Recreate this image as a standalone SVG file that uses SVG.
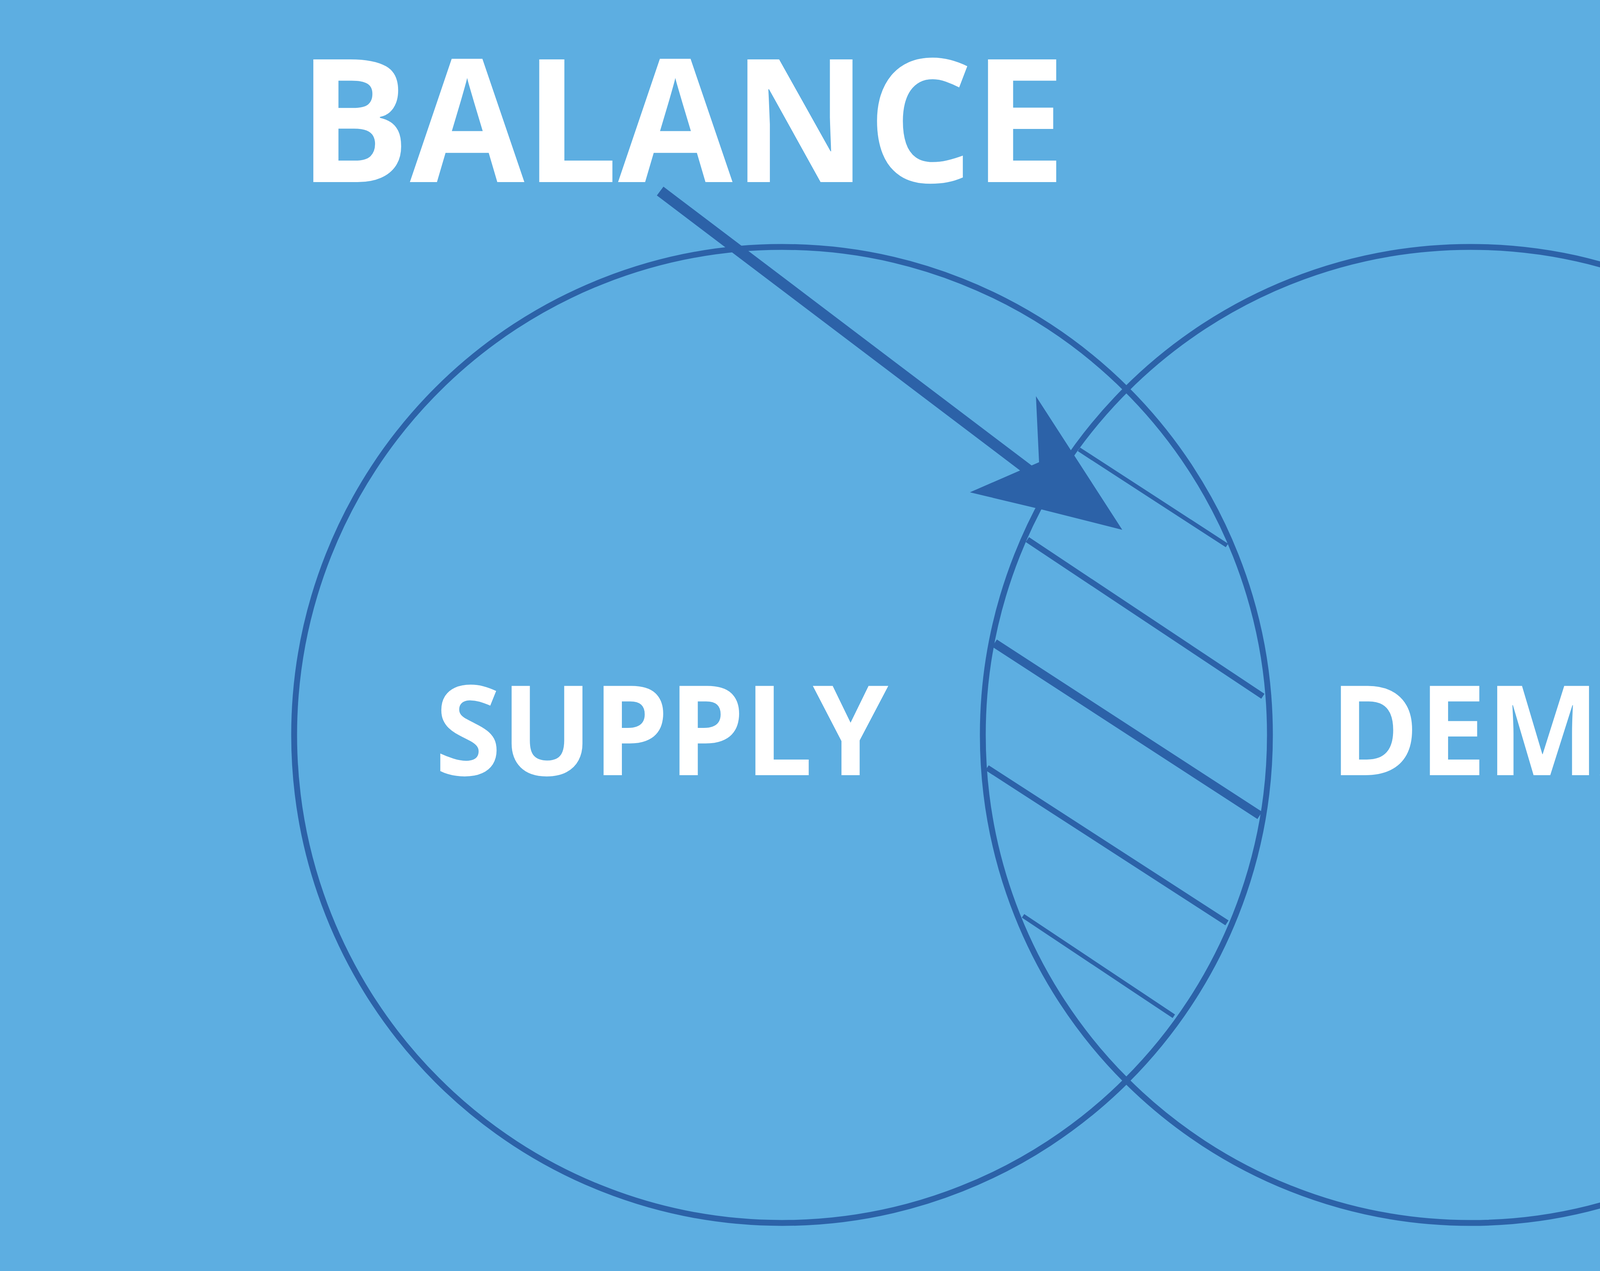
<svg xmlns="http://www.w3.org/2000/svg" width="5760" height="3253" viewBox="0 0 5760 3253">
<style>
.c{fill:none;stroke:#2c62a8;stroke-width:15}
.h{stroke:#2c62a8;fill:none}
.t{font-family:"Open Sans","Liberation Sans",sans-serif;font-weight:bold;fill:#fff}
</style>
<rect width="5760" height="3253" fill="#5daee1"/>
<g id="supply"><circle class="c" cx="2002" cy="1881" r="1249"/>
<text class="t" x="1113" y="1984" font-size="320" textLength="1161" lengthAdjust="spacingAndGlyphs">SUPPLY</text></g>
<g id="demand"><circle class="c" cx="3765" cy="1881" r="1249"/>
<text class="t" x="3405" y="1984" font-size="320" textLength="1381" lengthAdjust="spacingAndGlyphs">DEMAND</text></g>
<g id="balance"><text class="t" x="764" y="466" font-size="440" textLength="1965" lengthAdjust="spacingAndGlyphs">BALANCE</text></g>
<g id="connectors">
<line class="h" x1="1690" y1="489" x2="2645" y2="1212" stroke-width="28"/>
<polygon fill="#2c62a8" points="2873,1356 2652,1014 2660,1183 2483,1260 2667,1304"/>
<line class="h" x1="2762" y1="1150" x2="3141" y2="1396" stroke-width="11"/>
<line class="h" x1="2630" y1="1381" x2="3233" y2="1782" stroke-width="15"/>
<line class="h" x1="2546" y1="1646" x2="3225" y2="2087" stroke-width="22"/>
<line class="h" x1="2527" y1="1965" x2="3141" y2="2362" stroke-width="15"/>
<line class="h" x1="2619" y1="2344" x2="3005" y2="2601" stroke-width="11"/>
</g>
</svg>
